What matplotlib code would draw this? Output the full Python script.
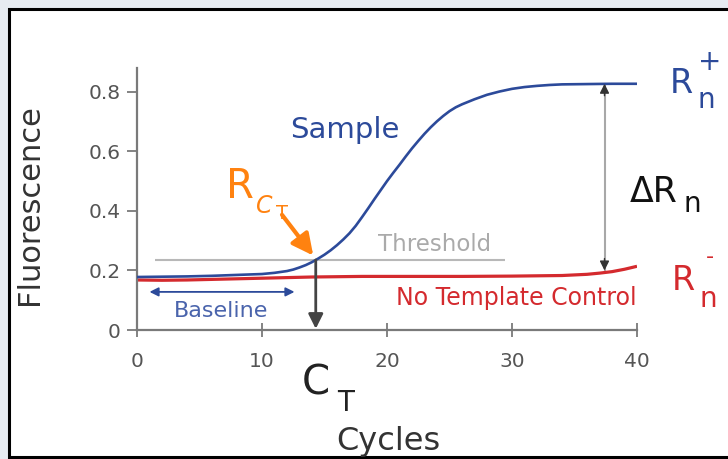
import matplotlib
matplotlib.use("Agg")
import matplotlib.pyplot as plt
from matplotlib.patches import Rectangle

# values
cycles = [0, 2, 4, 6, 8, 10, 11, 12, 12.5, 13, 13.5, 14, 14.5, 15, 15.5, 16, 16.5,
          17, 17.5, 18, 18.5, 19, 19.5, 20, 20.5, 21, 21.5, 22, 22.5, 23, 23.5,
          24, 24.5, 25, 25.5, 26, 27, 28, 29, 30, 31, 32, 33, 34, 36, 38, 40]
sample = [0.178, 0.179, 0.180, 0.182, 0.185, 0.188, 0.192, 0.198, 0.203, 0.210,
          0.218, 0.228, 0.240, 0.253, 0.268, 0.285, 0.304, 0.325, 0.350, 0.379,
          0.409, 0.440, 0.470, 0.500, 0.528, 0.555, 0.583, 0.610, 0.635, 0.659,
          0.681, 0.701, 0.719, 0.735, 0.748, 0.758, 0.775, 0.790, 0.801, 0.810,
          0.816, 0.820, 0.823, 0.825, 0.826, 0.827, 0.827]
ntc_cycles = [0, 2, 4, 6, 8, 10, 14, 18, 22, 26, 30, 34, 36, 37, 38, 39, 40]
ntc = [0.168, 0.167, 0.168, 0.170, 0.172, 0.174, 0.178, 0.180, 0.180, 0.180,
       0.181, 0.183, 0.187, 0.191, 0.196, 0.204, 0.214]
threshold = 0.235
threshold_span = (1.45, 29.4)
ct = 14.3
baseline_span = (1.0, 12.6)
rn_plus = 0.827
rn_minus = 0.200
delta_x = 37.4
xticks = [0, 10, 20, 30, 40]
yticks = [0, 0.2, 0.4, 0.6, 0.8]
ytick_labels = ["0", "0.2", "0.4", "0.6", "0.8"]

blue = "#2c4a9a"
red = "#d42a2e"
orange = "#ff8210"
gray = "#7a7a7a"

fig = plt.figure(figsize=(7.28, 4.59), dpi=100, facecolor="#e6ebf1")
# black frame around the picture
fig.patches.append(Rectangle((9 / 728, 2 / 459), 1.0, 448 / 459, transform=fig.transFigure,
                             facecolor="white", edgecolor="black", linewidth=2.2, zorder=-1))

ax = fig.add_axes([137 / 728, 129 / 459, 500 / 728, 262 / 459])
ax.set_zorder(1)
ax.patch.set_alpha(0)

ax.plot(ntc_cycles, ntc, color=red, lw=2.3, solid_capstyle="butt", zorder=2)
ax.plot(cycles, sample, color=blue, lw=1.9, zorder=3)
ax.hlines(threshold, threshold_span[0], threshold_span[1], color="#b8b8b8", lw=1.5, zorder=1)

# Ct arrow
ax.annotate("", xy=(ct, 0.004), xytext=(ct, threshold),
            arrowprops=dict(arrowstyle="-|>", color="#444444", lw=2, mutation_scale=22,
                            shrinkA=0, shrinkB=0), zorder=4)
# R_CT arrow
ax.annotate("", xy=(14.1, 0.250), xytext=(11.6, 0.387),
            arrowprops=dict(arrowstyle="-|>", color=orange, lw=3, mutation_scale=32,
                            shrinkA=0, shrinkB=0), zorder=4)
# baseline arrow
ax.annotate("", xy=(baseline_span[1], 0.128), xytext=(baseline_span[0], 0.128),
            arrowprops=dict(arrowstyle="<|-|>", color=blue, lw=1.3, mutation_scale=13,
                            shrinkA=0, shrinkB=0))
# delta Rn arrow
ax.plot([delta_x, delta_x], [rn_minus, rn_plus], color="#a8a8a8", lw=1.5, zorder=1)
ax.annotate("", xy=(delta_x, rn_plus), xytext=(delta_x, rn_plus - 0.04),
            arrowprops=dict(arrowstyle="-|>", color="#333333", lw=1, mutation_scale=14,
                            shrinkA=0, shrinkB=0))
ax.annotate("", xy=(delta_x, rn_minus), xytext=(delta_x, rn_minus + 0.04),
            arrowprops=dict(arrowstyle="-|>", color="#333333", lw=1, mutation_scale=14,
                            shrinkA=0, shrinkB=0))

# labels in the plot
ax.text(16.6, 0.646, "Sample", color=blue, fontsize=21, ha="center", va="baseline")
ax.text(19.3, 0.265, "Threshold", color="#aaaaaa", fontsize=16.5, ha="left", va="baseline")
ax.text(40, 0.084, "No Template Control", color=red, fontsize=17, ha="right", va="baseline")
ax.text(6.7, 0.044, "Baseline", color="#4a64ac", fontsize=16, ha="center", va="baseline")

ax.text(7.1, 0.444, "R", color=orange, fontsize=29, va="baseline")
ax.text(9.5, 0.393, "C", color=orange, fontsize=17, style="italic", va="baseline")
ax.text(11.1, 0.372, "T", color=orange, fontsize=14, va="baseline")

ax.text(13.2, -0.218, "C", color="#222222", fontsize=29, va="baseline", clip_on=False)
ax.text(16.0, -0.272, "T", color="#222222", fontsize=20, va="baseline", clip_on=False)

ax.text(39.4, 0.43, "\u0394R", color="#111111", fontsize=25, va="baseline", clip_on=False)
ax.text(43.7, 0.397, "n", color="#111111", fontsize=20, va="baseline", clip_on=False)

ax.text(42.65, 0.797, "R", color=blue, fontsize=24, va="baseline", clip_on=False)
ax.text(44.8, 0.746, "n", color=blue, fontsize=20, va="baseline", clip_on=False)
ax.text(45.8, 0.90, "+", color=blue, fontsize=20, ha="center", va="center", clip_on=False)

ax.text(42.8, 0.134, "R", color=red, fontsize=24, va="baseline", clip_on=False)
ax.text(45.0, 0.077, "n", color=red, fontsize=20, va="baseline", clip_on=False)
ax.text(45.8, 0.245, "-", color=red, fontsize=16, ha="center", va="center", clip_on=False)

# axes
ax.set_xlim(0, 40)
ax.set_ylim(0, 0.88)
for s in ["top", "right"]:
    ax.spines[s].set_visible(False)
for s in ["left", "bottom"]:
    ax.spines[s].set_color(gray)
    ax.spines[s].set_linewidth(1.6)
ax.set_xticks(xticks)
ax.set_yticks(yticks)
ax.set_yticklabels(ytick_labels)
ax.tick_params(axis="x", direction="inout", length=10, width=1.3, color=gray,
               labelsize=14.5, labelcolor="#555555", pad=11)
ax.tick_params(axis="y", direction="out", length=7, width=1.3, color=gray,
               labelsize=14.5, labelcolor="#555555", pad=5)

ax.set_xlabel("Cycles", fontsize=23, color="#333333")
ax.xaxis.set_label_coords(0.502, -0.365)
ax.set_ylabel("Fluorescence", fontsize=22, color="#333333")
ax.yaxis.set_label_coords(-0.185, 0.477)

fig.savefig("out.png", dpi=100, facecolor=fig.get_facecolor())
